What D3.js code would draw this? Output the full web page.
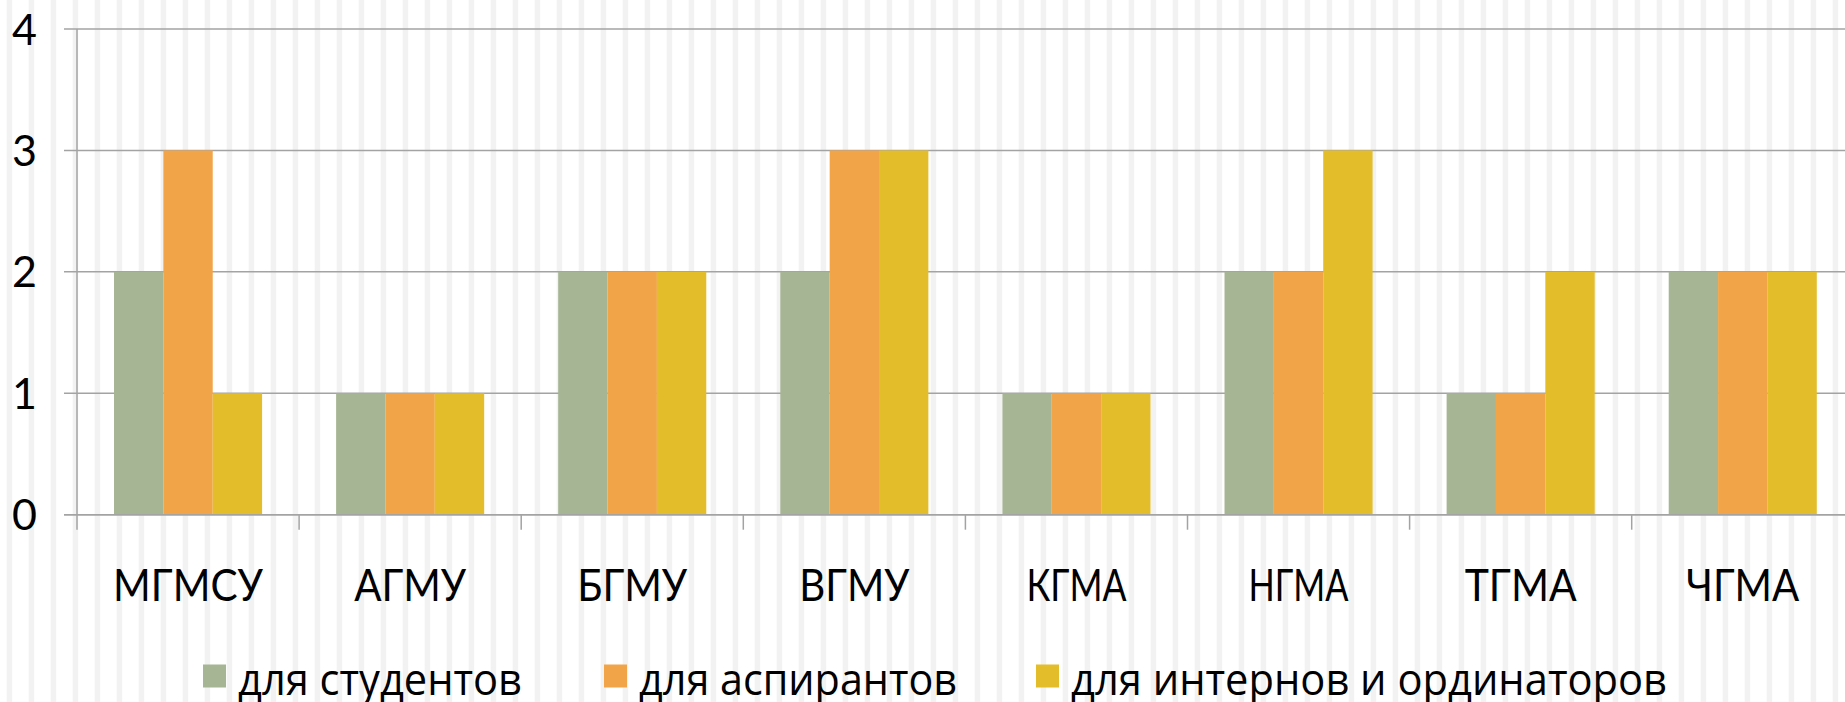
<!DOCTYPE html>
<html>
<head>
<meta charset="utf-8">
<script src="https://cdn.jsdelivr.net/npm/d3@7"></script>
<style>
  body { margin: 0; background: #fff; overflow: hidden; }
  svg { display: block; }
</style>
</head>
<body>
<svg id="chart"></svg>
<script>
// categories and series
const universities = ['МГМСУ', 'АГМУ', 'БГМУ', 'ВГМУ', 'КГМА', 'НГМА', 'ТГМА', 'ЧГМА'];
const seriesNames = ['для студентов', 'для аспирантов', 'для интернов и ординаторов'];
const students   = [2, 1, 2, 2, 1, 2, 1, 2];
const postgrads  = [3, 1, 2, 3, 1, 2, 1, 2];
const interns    = [1, 1, 2, 3, 1, 3, 2, 2];
const yTicks = [0, 1, 2, 3, 4];
const colors = ['#a6b593', '#f2a548', '#e4bd2a'];

// measured label widths so the text keeps the look of the original
const catLabelWidths = [150, 112, 110, 110, 100, 100, 112, 113];
const legendWidths = [284, 318, 596];
const legendX = [203, 604, 1036];

const W = 1845, H = 702;
const config = {
  left: 77, top: 29, zeroY: 514.7, step: 222.1
};

const svg = d3.select('#chart').attr('width', W).attr('height', H);

// striped background
const pat = svg.append('defs').append('pattern')
    .attr('id', 'stripes')
    .attr('patternUnits', 'userSpaceOnUse')
    .attr('width', 22).attr('height', 10);
pat.append('rect').attr('width', 22).attr('height', 10).attr('fill', '#fff');
pat.append('rect').attr('x', 6.7).attr('width', 5.4).attr('height', 10).attr('fill', '#f2f2f2');
svg.append('rect').attr('width', W).attr('height', H).attr('fill', 'url(#stripes)');

const data = universities.map((u, i) => ({
  name: u,
  values: [students[i], postgrads[i], interns[i]]
}));

const x = d3.scaleBand()
    .domain(universities)
    .range([config.left, config.left + config.step * universities.length])
    .paddingInner(0).paddingOuter(0);

const xSub = d3.scaleBand()
    .domain(d3.range(seriesNames.length))
    .range([0, x.bandwidth()])
    .paddingInner(0).paddingOuter(0.75);

const y = d3.scaleLinear()
    .domain([0, 4])
    .range([config.zeroY, config.top]);

// gridlines
svg.append('g')
  .selectAll('line')
  .data(yTicks)
  .enter()
  .append('line')
    .attr('x1', config.left - 13)
    .attr('x2', W)
    .attr('y1', d => y(d))
    .attr('y2', d => y(d))
    .attr('stroke', '#a3a3a3')
    .attr('stroke-width', 1.5);

// bars
const groups = svg.append('g')
  .selectAll('g')
  .data(data)
  .enter()
  .append('g')
    .attr('transform', d => `translate(${x(d.name)},0)`);

groups.selectAll('rect')
  .data(d => d.values.map((v, k) => ({k: k, v: v})))
  .enter()
  .append('rect')
    .attr('x', d => xSub(d.k))
    .attr('width', xSub.bandwidth())
    .attr('y', d => y(d.v))
    .attr('height', d => y(0) - y(d.v))
    .attr('fill', d => colors[d.k]);

// axes
svg.append('line')
    .attr('x1', config.left).attr('x2', config.left)
    .attr('y1', config.top).attr('y2', config.zeroY + 15)
    .attr('stroke', '#a3a3a3').attr('stroke-width', 1.5);

svg.append('line')
    .attr('x1', config.left - 13).attr('x2', W)
    .attr('y1', config.zeroY).attr('y2', config.zeroY)
    .attr('stroke', '#a3a3a3').attr('stroke-width', 1.5);

svg.append('g')
  .selectAll('line')
  .data(universities.slice(1).concat(['__end']))
  .enter()
  .append('line')
    .attr('x1', (d, i) => x(universities[0]) + x.step() * (i + 1))
    .attr('x2', (d, i) => x(universities[0]) + x.step() * (i + 1))
    .attr('y1', config.zeroY)
    .attr('y2', config.zeroY + 15)
    .attr('stroke', '#a3a3a3').attr('stroke-width', 1.5);

// y tick labels
svg.append('g')
  .selectAll('text')
  .data(yTicks)
  .enter()
  .append('text')
    .attr('x', 24.5)
    .attr('y', d => y(d) + 15.5)
    .attr('text-anchor', 'middle')
    .style('font-family', 'Lato, "Open Sans", sans-serif')
    .style('font-size', '43px')
    .style('fill', '#000')
    .text(d => d);

// category labels
svg.append('g')
  .selectAll('text')
  .data(universities)
  .enter()
  .append('text')
    .attr('x', d => x(d) + x.bandwidth() / 2)
    .attr('y', 601)
    .attr('text-anchor', 'middle')
    .attr('textLength', (d, i) => catLabelWidths[i])
    .attr('lengthAdjust', 'spacingAndGlyphs')
    .style('font-family', 'Lato, "Open Sans", sans-serif')
    .style('font-size', '44px')
    .style('fill', '#000')
    .text(d => d);

// legend
const legend = svg.append('g')
  .selectAll('g')
  .data(seriesNames)
  .enter()
  .append('g')
    .attr('transform', (d, i) => `translate(${legendX[i]},0)`);

legend.append('rect')
    .attr('x', 0).attr('y', 664.5)
    .attr('width', 23).attr('height', 23)
    .attr('fill', (d, i) => colors[i]);

legend.append('text')
    .attr('x', 35)
    .attr('y', 695)
    .attr('textLength', (d, i) => legendWidths[i])
    .attr('lengthAdjust', 'spacingAndGlyphs')
    .style('font-family', '"Open Sans", sans-serif')
    .style('font-size', '43px')
    .style('fill', '#000')
    .text(d => d);
</script>
</body>
</html>
